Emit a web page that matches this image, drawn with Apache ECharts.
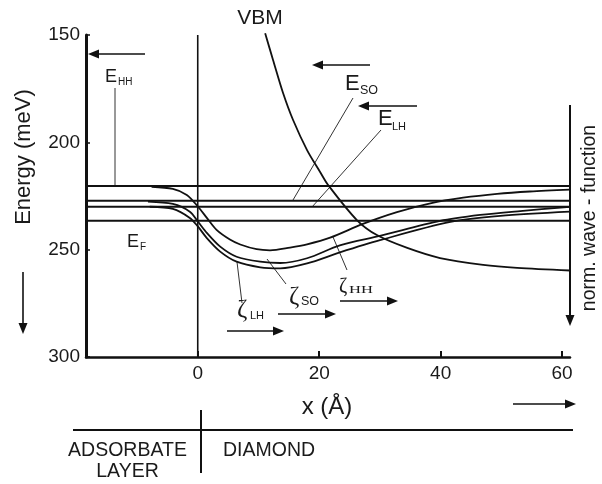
<!DOCTYPE html>
<html><head><meta charset="utf-8">
<script src="https://cdn.jsdelivr.net/npm/echarts@6/dist/echarts.min.js"></script>
<style>html,body{margin:0;padding:0;background:#fff}#c{width:602px;height:484px}</style>
</head><body><div id="c"></div>
<script>
// ---- data ----
const yTicks = [150, 200, 250, 300];
const xTicks = [0, 20, 40, 60];
const xRange = [-18.4, 61.3];
const levelNames = ['E_HH', 'E_SO', 'E_LH', 'E_F'];
const levelValues = [220.3, 227.2, 230.0, 236.5];
const interfaceX = [0, 0];
const interfaceE = [150, 300];

const hhX = [-7.6, -4.1, -1.8, 0.05, 1.5, 3.1, 5.3, 7.0, 9.7, 11.9, 15.2, 18.0, 21.8, 27.2, 32.8, 38.3, 43.7, 49.3, 54.7, 61.3];
const hhE = [220.7, 221.7, 224.5, 230.0, 235.2, 240.8, 245.3, 247.6, 249.8, 250.3, 249.0, 247.5, 244.4, 238.0, 232.5, 228.4, 225.8, 224.0, 222.9, 222.0];

const soX = [-8.2, -4.1, -1.3, 0.05, 1.5, 3.7, 6.4, 10.3, 13.6, 18.0, 23.4, 30.0, 39.9, 46.5, 53.1, 61.3];
const soE = [227.6, 228.7, 232.3, 237.0, 242.2, 248.6, 253.3, 255.6, 256.2, 254.0, 248.0, 243.6, 236.6, 233.8, 232.0, 230.1];

const lhX = [-7.9, -4.1, -1.3, 0.05, 1.5, 3.7, 6.4, 10.3, 13.6, 18.0, 23.4, 30.0, 41.6, 49.8, 61.3];
const lhE = [230.0, 231.0, 235.2, 239.3, 244.6, 250.9, 255.6, 258.2, 258.7, 256.4, 251.3, 245.6, 237.1, 234.3, 232.3];

const vbmX = [11.1, 12.4, 14.05, 15.7, 18.0, 20.15, 21.5, 26.2, 29.5, 34.5, 39.9, 47.0, 52.6, 61.3];
const vbmE = [149.2, 161.6, 177.0, 189.6, 203.6, 213.8, 220.0, 236.2, 243.2, 249.2, 253.9, 257.1, 258.5, 259.7];

// ---- helpers ----
const INK = '#111';
const SANS = '"Liberation Sans", Arial, sans-serif';
const SERIF = '"Liberation Serif", "DejaVu Serif", serif';
const zip = (xs, ys) => xs.map((x, i) => [x, ys[i]]);

function curve(name, xs, ys, extra) {
  return Object.assign({
    name, type: 'line', data: zip(xs, ys), smooth: 0.3, symbol: 'none',
    lineStyle: { color: INK, width: 1.8 }, silent: true
  }, extra || {});
}

function seg(x1, y1, x2, y2, w, c) {
  return { type: 'line', shape: { x1, y1, x2, y2 }, style: { stroke: c || INK, lineWidth: w || 1 }, silent: true };
}
function arrow(x1, y1, x2, y2, w) {
  const dx = x2 - x1, dy = y2 - y1, L = Math.hypot(dx, dy);
  const ux = dx / L, uy = dy / L, px = -uy, py = ux;
  const hl = 11, hw = 4.5;
  const bx = x2 - ux * hl, by = y2 - uy * hl;
  return [
    seg(x1, y1, bx + ux * 2, by + uy * 2, w || 1.6),
    { type: 'polygon', shape: { points: [[x2, y2], [bx + px * hw, by + py * hw], [bx - px * hw, by - py * hw]] }, style: { fill: INK }, silent: true }
  ];
}
function txt(text, x, y, size, opts) {
  opts = opts || {};
  return Object.assign({
    type: 'text', x, y, silent: true,
    style: { text, fontSize: size, fontFamily: opts.family || SANS, fill: '#1a1a1a',
      align: opts.align || 'left', verticalAlign: 'middle', fontWeight: opts.weight || 'normal' }
  }, opts.el || {});
}

const series = [];
levelValues.forEach((v, i) => {
  series.push(curve(levelNames[i], xRange, [v, v], { smooth: false, lineStyle: { color: INK, width: 2 } }));
});
series.push(curve('interface', interfaceX, interfaceE, { smooth: false, clip: false, lineStyle: { color: INK, width: 1.6 } }));
series.push(curve('zeta_HH', hhX, hhE));
series.push(curve('zeta_SO', soX, soE));
series.push(curve('zeta_LH', lhX, lhE));
series.push(curve('VBM', vbmX, vbmE, { clip: false }));

const graphic = [].concat(
  // arrows
  arrow(145, 54, 88, 54),
  arrow(370, 65, 312, 65),
  arrow(417, 106, 358, 106),
  arrow(23, 272, 23, 334),
  arrow(227, 331, 284, 331),
  arrow(278, 314, 336, 314),
  arrow(340, 301, 398, 301),
  arrow(513, 404, 576, 404),
  arrow(570, 105, 570, 326, 2),
  // pointer lines
  [seg(115, 88, 115, 186, 1, '#333'),
   seg(353, 98, 293, 200, 1, '#333'),
   seg(381, 130, 312, 207, 1, '#333'),
   seg(237, 262, 242, 303, 1, '#333'),
   seg(267, 259, 286, 284, 1, '#333'),
   seg(333, 237, 347, 270, 1, '#333'),
   // bottom region
   seg(73, 430, 573, 430, 2.2),
   seg(201, 410, 201, 473, 2)],
  // texts
  [txt('VBM', 260, 18, 21, { align: 'center' }),
   txt('E', 105, 77, 18), txt('HH', 118, 82, 10),
   txt('E', 345, 84, 22), txt('SO', 360, 91, 12.5),
   txt('E', 378, 119, 22), txt('LH', 392, 126.5, 11),
   txt('E', 127, 242, 18), txt('F', 140, 247, 10),
   txt('ζ', 237, 310, 25, { family: SERIF }), txt('LH', 250, 316, 11),
   txt('ζ', 289, 297, 25, { family: SERIF }), txt('SO', 301, 302, 12.5),
   txt('ζ', 339, 287, 20, { family: SERIF }), txt('HH', 349, 290.5, 11, { family: SERIF, el: { scaleX: 1.5 } }),
   txt('Energy (meV)', 24, 157, 22, { align: 'center', el: { rotation: Math.PI / 2 } }),
   txt('norm. wave - function', 590, 218, 19.5, { align: 'center', el: { rotation: Math.PI / 2 } }),
   txt('x (Å)', 327, 407, 24, { align: 'center' }),
   txt('ADSORBATE', 127.5, 451, 19.5, { align: 'center' }),
   txt('LAYER', 127.5, 471.5, 19.5, { align: 'center' }),
   txt('DIAMOND', 223, 451, 19.5)]
);

const chart = echarts.init(document.getElementById('c'), null, { renderer: 'canvas' });
chart.setOption({
  animation: false,
  backgroundColor: '#fff',
  grid: { left: 86, right: 32, top: 35, bottom: 127 },
  xAxis: {
    type: 'value', min: xRange[0], max: xRange[1],
    axisLine: { onZero: false, lineStyle: { color: INK, width: 2.5 } },
    axisTick: { show: true, inside: true, length: 6, customValues: xTicks, lineStyle: { color: INK, width: 2 } },
    axisLabel: { customValues: xTicks, fontSize: 19, margin: 7, color: '#1a1a1a', fontFamily: SANS },
    splitLine: { show: false }
  },
  yAxis: {
    type: 'value', inverse: true, min: yTicks[0], max: yTicks[yTicks.length - 1], interval: 50,
    axisLine: { show: true, onZero: false, lineStyle: { color: INK, width: 3 } },
    axisTick: { show: true, inside: true, length: 4, lineStyle: { color: INK, width: 1.5 } },
    axisLabel: { fontSize: 19, margin: 6, color: '#1a1a1a', fontFamily: SANS },
    splitLine: { show: false }
  },
  series,
  graphic
});
</script></body></html>
